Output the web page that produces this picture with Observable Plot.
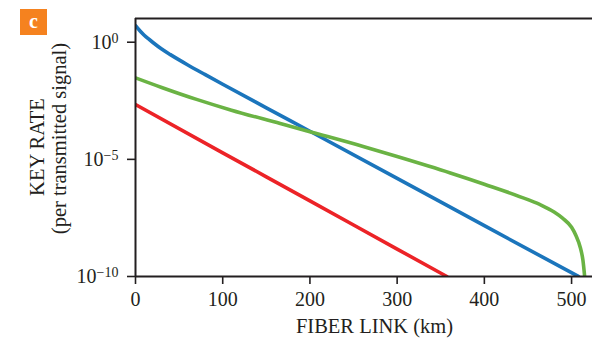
<!DOCTYPE html>
<html><head><meta charset="utf-8">
<script src="https://cdn.jsdelivr.net/npm/d3@7"></script>
<script src="https://cdn.jsdelivr.net/npm/@observablehq/plot@0.6"></script>
<style>
body{margin:0;background:#fff;}
#chart{width:592px;height:341px;overflow:hidden;}
#chart svg, #chart svg text, #chart svg tspan{font-family:'Liberation Serif','Times New Roman',serif !important;}
</style></head><body><div id="chart"></div>
<script>
// Distances (km) and key-rate exponents (log10 of rate per transmitted signal)
const blueKm  = [0, 5, 10, 15, 20, 30, 40, 50, 60, 80, 100, 150, 200, 300, 400, 508];
const blueExp = [0.71, 0.49, 0.30, 0.14, -0.01, -0.29, -0.53, -0.755, -0.97, -1.385, -1.795, -2.80, -3.80, -5.81, -7.83, -10];

const greenKm  = [0, 30, 70, 110, 166, 202, 262, 300, 361, 400, 450, 465, 480, 490, 500, 505, 510, 513, 515];
const greenExp = [-1.52, -1.93, -2.44, -2.90, -3.47, -3.84, -4.46, -4.88, -5.58, -6.06, -6.72, -6.95, -7.25, -7.52, -7.9, -8.25, -8.76, -9.3, -10];

const redKm  = [0, 100, 200, 300, 357];
const redExp = [-2.66, -4.72, -6.77, -8.83, -10];

const seriesNames  = ["Series 1", "Series 2", "Series 3"];
const seriesColors = ["#1b75bc", "#6ab344", "#ec2327"];

const xTicks = [0, 100, 200, 300, 400, 500];
const yTickExps = [0, -5, -10];

const xLabel = "FIBER LINK (km)";
const yLabel1 = "KEY RATE";
const yLabel2 = "(per transmitted signal)";
const panelLetter = "c";

const rows = [];
[[blueKm, blueExp], [greenKm, greenExp], [redKm, redExp]].forEach(([km, ex], i) => {
  km.forEach((k, j) => rows.push({series: seriesNames[i], km: k, rate: Math.pow(10, ex[j])}));
});

const sup = {"-": "⁻", "0": "⁰", "1": "¹", "2": "²", "3": "³", "4": "⁴", "5": "⁵", "6": "⁶", "7": "⁷", "8": "⁸", "9": "⁹"};
const unsup = Object.fromEntries(Object.entries(sup).map(([a, b]) => [b, a]));

const ink = "#231f20";
const font = "'Liberation Serif', 'Times New Roman', serif";

const chart = Plot.plot({
  width: 592, height: 341,
  marginLeft: 135, marginRight: 0, marginTop: 18, marginBottom: 65,
  style: {fontFamily: font, fontSize: "20px", color: ink, background: "white"},
  x: {domain: [0, 524]},
  y: {type: "log", domain: [1e-10, 10.3]},
  color: {domain: seriesNames, range: seriesColors},
  marks: [
    Plot.line(rows, {x: "km", y: "rate", z: "series", stroke: "series", strokeWidth: 3.6, curve: "monotone-x", clip: true}),
    Plot.ruleX([0], {stroke: ink, strokeWidth: 2}),
    Plot.ruleY([1e-10], {stroke: ink, strokeWidth: 2}),
    Plot.ruleY([10.3], {stroke: ink, strokeWidth: 2}),
    Plot.axisX({ticks: xTicks, tickSize: 8, tickPadding: 7, label: null, tickFormat: d => String(d), stroke: ink, strokeWidth: 1.6, fontSize: 20, fill: ink}),
    Plot.axisY({ticks: yTickExps.map(e => Math.pow(10, e)), tickSize: 8, tickPadding: 9, label: null,
      tickFormat: d => "10" + String(Math.round(Math.log10(d))).split("").map(c => sup[c]).join(""),
      stroke: ink, strokeWidth: 1.6, fontSize: 20, fill: ink})
  ]
});

document.getElementById("chart").appendChild(chart);
const svg = d3.select(chart);

// proper superscripts on y tick labels
svg.selectAll('[aria-label="y-axis tick label"] text').each(function () {
  const t = this.textContent;
  const exp = [...t.slice(2)].map(c => unsup[c]).join("").replace("-", "−");
  const sel = d3.select(this);
  sel.text("10");
  sel.append("tspan").attr("dy", "-0.42em").attr("font-size", 14).text(exp);
});

// axis titles
const addText = () => svg.append("text").attr("font-family", font).attr("fill", ink).attr("font-size", 20.5).attr("text-anchor", "middle");
addText().attr("x", 374.5).attr("y", 333).text(xLabel);
addText().attr("transform", "translate(44,147) rotate(-90)").text(yLabel1);
addText().attr("transform", "translate(66,138.5) rotate(-90)").text(yLabel2);

// panel badge
svg.append("rect").attr("x", 20).attr("y", 9).attr("width", 27).attr("height", 26).attr("fill", "#f5821f");
svg.append("text").attr("x", 33.5).attr("y", 28).attr("text-anchor", "middle").attr("fill", "white")
  .attr("font-family", font).attr("font-size", 20).attr("font-weight", "bold").text(panelLetter);
</script>
</body></html>
